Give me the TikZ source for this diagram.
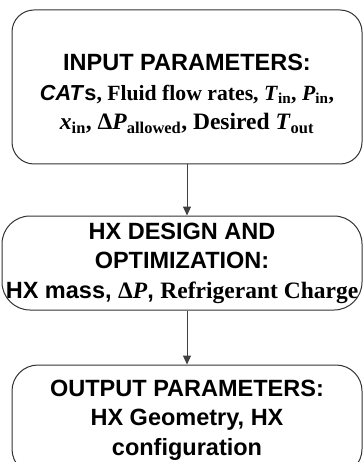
\documentclass[tikz,border=0pt]{standalone}
\usepackage{fontspec}
\setmainfont{Liberation Serif}
\setsansfont{Liberation Sans}
\usetikzlibrary{positioning,arrows.meta}

\newcommand{\vsub}[2]{\textit{#1}\textsubscript{#2}}

\tikzset{
  flowbox/.style={draw=black!80, line width=1pt, rounded corners=22pt, inner sep=1pt,
    minimum width=350pt, align=center, font=\sffamily\bfseries\fontsize{23.5}{29.5}\selectfont},
  flowarrow/.style={draw=black!75, line width=1pt, -{Triangle[length=9pt,width=8pt]}}
}

\begin{document}
\begin{tikzpicture}[x=1pt,y=1pt]
  \useasboundingbox[fill=white] (0,0) rectangle (363,-462);
  % boxes
  \node[flowbox, minimum height=154pt] (inp) at (187,-87)
    {\rule{0pt}{30pt}INPUT PARAMETERS:\\
     \fontsize{21.7}{29}\selectfont\textit{CAT}s{\rmfamily, Fluid flow rates, \vsub{T}{in}, \vsub{P}{in},}\\
     {\rmfamily\vsub{x}{in}, Δ\vsub{P}{allowed}, Desired \vsub{T}{out}}};
  \node[flowbox, below=51pt of inp, xshift=-5pt, minimum width=360pt, minimum height=94pt,
    rounded corners=28pt] (des)
    {HX DESIGN AND\\OPTIMIZATION:\\HX mass, {\rmfamily Δ\textit{P}}, {\rmfamily Refrigerant Charge}};
  \node[flowbox, below=54pt of des, xshift=5pt, minimum height=110pt, rounded corners=26pt] (outp)
    {OUTPUT PARAMETERS:\\HX Geometry, HX\\configuration};
  % arrows
  \draw[flowarrow] (inp.south) -- (inp.south |- des.north);
  \draw[flowarrow] (inp.south |- des.south) -- (inp.south |- outp.north);
\end{tikzpicture}
\end{document}
